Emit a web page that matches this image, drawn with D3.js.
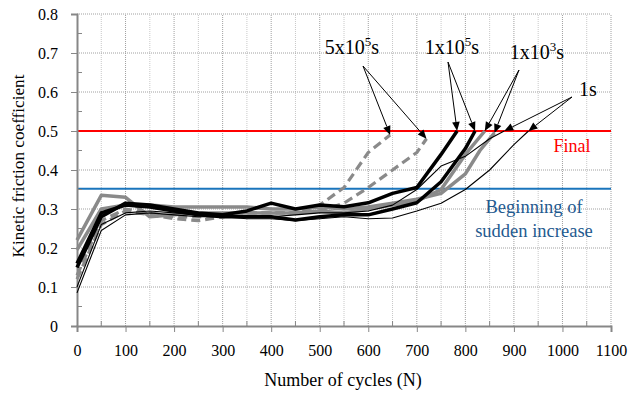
<!DOCTYPE html>
<html><head><meta charset="utf-8">
<script src="https://cdn.jsdelivr.net/npm/d3@7"></script>
<style>body{margin:0;background:#fff}svg{display:block}</style>
</head><body><svg id="c" width="630" height="396"></svg>
<script>
// ---- data ----
const xTicks = [0,100,200,300,400,500,600,700,800,900,1000,1100];
const yTicks = [0,0.1,0.2,0.3,0.4,0.5,0.6,0.7,0.8];
const finalLevel = 0.5;
const suddenLevel = 0.352;

// 5x10^5 s (gray dashed)
const s5e5a = [[0,0.12],[50,0.26],[100,0.295],[150,0.285],[200,0.275],[250,0.27],[300,0.28],[350,0.29],[400,0.29],[450,0.29],[500,0.31],[550,0.355],[600,0.445],[645,0.49]];
const s5e5b = [[0,0.13],[50,0.27],[100,0.30],[150,0.29],[200,0.28],[250,0.28],[300,0.285],[350,0.29],[400,0.29],[450,0.29],[500,0.295],[550,0.315],[600,0.355],[650,0.40],[700,0.445],[720,0.48]];
// 1x10^5 s (black thick)
const s1e5a = [[0,0.15],[50,0.28],[100,0.315],[150,0.31],[200,0.30],[250,0.29],[300,0.285],[350,0.295],[400,0.315],[450,0.30],[500,0.31],[550,0.306],[600,0.316],[650,0.34],[700,0.355],[750,0.44],[783,0.50]];
const s1e5b = [[0,0.16],[50,0.29],[100,0.31],[150,0.305],[200,0.295],[250,0.285],[300,0.28],[350,0.28],[400,0.28],[450,0.272],[500,0.28],[550,0.285],[600,0.285],[650,0.30],[700,0.316],[750,0.37],[800,0.455],[820,0.50]];
// 1x10^3 s (gray thick)
const s1e3a = [[0,0.22],[50,0.335],[100,0.33],[150,0.28],[200,0.285],[250,0.29],[300,0.29],[350,0.29],[400,0.29],[450,0.29],[500,0.295],[550,0.29],[600,0.30],[650,0.31],[700,0.32],[750,0.35],[800,0.44],[840,0.50]];
const s1e3b = [[0,0.195],[50,0.30],[100,0.31],[150,0.31],[200,0.305],[250,0.305],[300,0.305],[350,0.305],[400,0.30],[450,0.30],[500,0.305],[550,0.30],[600,0.305],[650,0.315],[700,0.325],[750,0.34],[800,0.39],[830,0.45],[860,0.495]];
// 1 s (black thin)
const s1a = [[0,0.085],[50,0.245],[100,0.285],[150,0.29],[200,0.285],[250,0.28],[300,0.28],[350,0.275],[400,0.275],[450,0.27],[500,0.275],[550,0.28],[600,0.275],[650,0.277],[700,0.295],[750,0.315],[800,0.35],[850,0.40],[900,0.465],[930,0.50]];
const s1b = [[0,0.10],[50,0.26],[100,0.29],[150,0.295],[200,0.29],[250,0.285],[300,0.285],[350,0.28],[400,0.28],[450,0.285],[500,0.29],[550,0.29],[600,0.295],[650,0.31],[700,0.35],[750,0.41],[800,0.435],[850,0.48],[880,0.50]];

const labels = ["5x10", "1x10", "1x10", "1"];
const labelSup = ["5", "5", "3", ""];

// ---- drawing ----
const FONT = "'Liberation Serif', 'Times New Roman', serif";
const svg = d3.select("#c");
const x = d3.scaleLinear().domain([0,1100]).range([77,611]);
const y = d3.scaleLinear().domain([0,0.8]).range([326,14]);
const axisCol = "#878787";

// gridlines
const g = svg.append("g");
g.selectAll(".vmin").data(d3.range(50,1101,100)).join("line")
  .attr("x1",d=>x(d)).attr("x2",d=>x(d)).attr("y1",y(0)).attr("y2",y(0.8))
  .attr("stroke","#c8c8c8").attr("stroke-width",1).attr("stroke-dasharray","1,1");
g.selectAll(".vmaj").data(xTicks.slice(1)).join("line")
  .attr("x1",d=>x(d)).attr("x2",d=>x(d)).attr("y1",y(0)).attr("y2",y(0.8))
  .attr("stroke","#a0a0a0").attr("stroke-width",1).attr("stroke-dasharray","1,1");
g.selectAll(".hmaj").data(yTicks.slice(1)).join("line")
  .attr("x1",x(0)).attr("x2",x(1100)).attr("y1",d=>y(d)).attr("y2",d=>y(d))
  .attr("stroke","#a0a0a0").attr("stroke-width",1).attr("stroke-dasharray","1,1");

// reference lines
svg.append("line").attr("x1",x(0)).attr("x2",x(1100)).attr("y1",y(finalLevel)).attr("y2",y(finalLevel))
  .attr("stroke","#ff0000").attr("stroke-width",2);
svg.append("line").attr("x1",x(0)).attr("x2",x(1100)).attr("y1",y(suddenLevel)).attr("y2",y(suddenLevel))
  .attr("stroke","#1a75bc").attr("stroke-width",2);

// axes
const xAxis = svg.append("g").attr("transform",`translate(0,${y(0)})`)
  .call(d3.axisBottom(x).tickValues(xTicks).tickSize(6).tickPadding(13).tickFormat(d3.format("d")));
const yAxis = svg.append("g").attr("transform",`translate(${x(0)},0)`)
  .call(d3.axisLeft(y).tickValues(yTicks).tickSize(6).tickPadding(13).tickFormat(d=>d===0?"0":d3.format(".1f")(d)));
[xAxis,yAxis].forEach(a=>{
  a.attr("font-family",null).attr("font-size",null);
  a.select(".domain").attr("stroke",axisCol).attr("stroke-width",2);
  a.selectAll(".tick line").attr("stroke",axisCol).attr("stroke-width",1);
  a.selectAll(".tick text").attr("fill","#000").style("font-size","16px").style("font-family",FONT);
});
// minor ticks
svg.selectAll(".ym").data(d3.range(0.05,0.8,0.1)).join("line")
  .attr("x1",x(0)).attr("x2",x(0)+5).attr("y1",d=>y(d)).attr("y2",d=>y(d)).attr("stroke",axisCol);
svg.selectAll(".xm").data(d3.range(50,1100,100)).join("line")
  .attr("x1",d=>x(d)).attr("x2",d=>x(d)).attr("y1",y(0)).attr("y2",y(0)-5).attr("stroke",axisCol);

// series
const line = d3.line().x(d=>x(d[0])).y(d=>y(d[1]));
const gray = "#8a8a8a";
const series = [
  {d:s1e3a, c:gray, w:3.5},
  {d:s1e3b, c:gray, w:3.5},
  {d:s5e5a, c:gray, w:3.2, dash:"9,5"},
  {d:s5e5b, c:gray, w:3.2, dash:"9,5"},
  {d:s1e5a, c:"#000", w:3.5},
  {d:s1e5b, c:"#000", w:3.5},
  {d:s1a, c:"#000", w:1.1},
  {d:s1b, c:"#000", w:1.1}
];
series.forEach(s=>{
  svg.append("path").attr("d",line(s.d)).attr("fill","none").attr("stroke",s.c)
    .attr("stroke-width",s.w).attr("stroke-linejoin","round")
    .attr("stroke-dasharray",s.dash||null);
});

// annotation labels with arrows
const ann = [
  {t:0, tx:352, ty:54, ox:363, oy:66, targets:[s5e5a,s5e5b]},
  {t:1, tx:452, ty:54, ox:448, oy:62, targets:[s1e5a,s1e5b]},
  {t:2, tx:537, ty:59, ox:519, oy:70, targets:[s1e3a,s1e3b]},
  {t:3, tx:588, ty:96, ox:572, oy:97, targets:[s1b,s1a]}
];
ann.forEach(a=>{
  const txt = svg.append("text").attr("x",a.tx).attr("y",a.ty).attr("text-anchor","middle")
    .style("font-size","20px").style("font-family",FONT).attr("fill","#000");
  txt.append("tspan").text(labels[a.t]);
  if(labelSup[a.t]) txt.append("tspan").attr("dy",-8).style("font-size","13px").text(labelSup[a.t]);
  txt.append("tspan").attr("dy",labelSup[a.t]?8:0).text("s");
  a.targets.forEach(s=>{
    const last = s[s.length-1];
    const tx = x(last[0]), ty = y(last[1]);
    const ang = Math.atan2(ty-a.oy, tx-a.ox);
    const L = 9, W = 3.8;
    const bx = tx - L*Math.cos(ang), by = ty - L*Math.sin(ang);
    svg.append("line").attr("x1",a.ox).attr("y1",a.oy).attr("x2",bx).attr("y2",by)
      .attr("stroke","#000").attr("stroke-width",1);
    const px = -Math.sin(ang), py = Math.cos(ang);
    svg.append("path").attr("d",`M${tx},${ty}L${bx+px*W},${by+py*W}L${bx-px*W},${by-py*W}Z`).attr("fill","#000");
  });
});

function txt(xp,yp,s,size,col){
  return svg.append("text").attr("x",xp).attr("y",yp).attr("text-anchor","middle")
    .style("font-size",size+"px").style("font-family",FONT).attr("fill",col).text(s);
}
txt(572,152,"Final",18,"#ff0000");
txt(534,213,"Beginning of",18.5,"#1f5a8f");
txt(534,237,"sudden increase",18.5,"#1f5a8f");

// axis titles
txt(343,386,"Number of cycles (N)",18,"#000");
txt(0,0,"Kinetic friction coefficient",17.2,"#000").attr("transform","translate(24,166) rotate(-90)");
</script></body></html>
